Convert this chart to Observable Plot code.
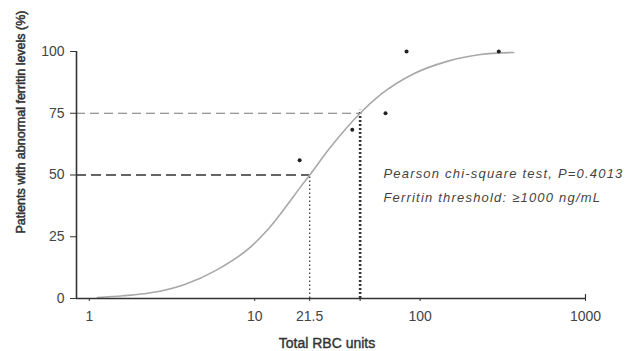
<!DOCTYPE html>
<html>
<head>
<meta charset="utf-8">
<script src="https://cdn.jsdelivr.net/npm/d3@7"></script>
<script src="https://cdn.jsdelivr.net/npm/@observablehq/plot@0.6"></script>
<style>
  html, body { margin: 0; padding: 0; background: #fff; }
  svg { display: block; }
</style>
</head>
<body>
<div id="chart"></div>
<script>
// Observed points (total RBC units, % patients with abnormal ferritin)
const pointX = [18.7, 38.9, 61.8, 82.8, 299];
const pointY = [56, 68.3, 75, 100, 100];

// Fitted curve
const curveX = [1.12, 1.6, 2.35, 3.74, 5.95, 9.46, 11.9, 15, 19, 21.5, 28.7, 43.4, 57.6, 91.6, 145.8, 231.7, 368];
const curveY = [0.4, 1.1, 2.3, 5.6, 11.7, 20.9, 27.6, 36, 45.3, 50, 61.2, 75, 82.5, 91, 96, 98.8, 99.6];

// Reference lines (50% and 75% thresholds)
const refX = [21.5, 43.4];
const refY = [50, 75];

// Axis ticks
const xTicks = [1, 10, 21.5, 43.4, 100, 1000];
const yTicks = [0, 25, 50, 75, 100];
const xDomain = [0.837, 1000];

// Annotation texts
const notes = [
  {x: 60, y: 50.4, text: "Pearson chi-square test, P=0.4013"},
  {x: 60, y: 40.6, text: "Ferritin threshold: \u22651000 ng/mL"}
];

const xLabel = "Total RBC units";
const yLabel = "Patients with abnormal ferritin levels (%)";

const points = pointX.map((x, i) => ({x, y: pointY[i]}));
const curve = curveX.map((x, i) => ({x, y: curveY[i]}));
const refs = refX.map((x, i) => ({x, y: refY[i]}));

const chart = Plot.plot({
  width: 626,
  height: 351,
  marginLeft: 76,
  marginRight: 41,
  marginTop: 51,
  marginBottom: 53,
  style: {fontFamily: "'Liberation Sans', Arial, sans-serif", background: "#fff"},
  x: {type: "log", domain: xDomain},
  y: {domain: [0, 100]},
  marks: [
    // horizontal dashed lines
    Plot.ruleY([refs[1]], {y: "y", x1: () => xDomain[0], x2: "x", stroke: "#777", strokeWidth: 1, strokeDasharray: "9,5"}),
    Plot.ruleY([refs[0]], {y: "y", x1: () => xDomain[0], x2: "x", stroke: "#333", strokeWidth: 1.6, strokeDasharray: "10,5"}),
    // vertical dotted lines
    Plot.ruleX([refs[0]], {x: "x", y1: 0, y2: "y", stroke: "#444", strokeWidth: 1.4, strokeDasharray: "1.5,2.5"}),
    Plot.ruleX([refs[1]], {x: "x", y1: 0, y2: d => d.y + 1.2, stroke: "#333", strokeWidth: 2.6, strokeDasharray: "2,2"}),
    // fitted curve
    Plot.line(curve, {x: "x", y: "y", curve: "monotone-x", stroke: "#a8a8a8", strokeWidth: 1.6}),
    // observed points
    Plot.dot(points, {x: "x", y: "y", r: 2, fill: "#222", stroke: "none"}),
    // axes
    Plot.axisY({ticks: yTicks, tickSize: 6, tickPadding: 6, fontSize: 14, label: null, stroke: "#333", color: "#444"}),
    Plot.axisX({ticks: xTicks, tickSize: 3, tickPadding: 10, fontSize: 14, label: null, tickFormat: d => String(d), stroke: "#333", color: "#444"}),
    Plot.ruleX([xDomain[0]], {stroke: "#333", strokeWidth: 1.6}),
    Plot.ruleY([0], {x1: () => xDomain[0], x2: () => xDomain[1], stroke: "#333", strokeWidth: 1.6}),
    Plot.ruleX([xTicks[xTicks.length - 1]], {y1: 0, y2: 1.6, stroke: "#333", strokeWidth: 1.2}),
    // annotations
    Plot.text(notes, {x: "x", y: "y", text: "text", textAnchor: "start", fontSize: 13, fontStyle: "italic", fill: "#444", lineAnchor: "middle"})
  ]
});

const svg = d3.select(chart);
svg.selectAll("text").filter(function() { return this.textContent.startsWith("Pearson") || this.textContent.startsWith("Ferritin"); })
  .attr("letter-spacing", "1.2px");

svg.append("text")
  .attr("x", 327).attr("y", 344)
  .attr("text-anchor", "middle").attr("dominant-baseline", "middle")
  .attr("font-size", 14).attr("fill", "#333")
  .attr("stroke", "#333").attr("stroke-width", 0.4)
  .text(xLabel);

svg.append("text")
  .attr("transform", "translate(22,122) rotate(-90)")
  .attr("text-anchor", "middle").attr("dominant-baseline", "middle")
  .attr("font-size", 12.5).attr("fill", "#333")
  .attr("stroke", "#333").attr("stroke-width", 0.5)
  .text(yLabel);

document.getElementById("chart").appendChild(chart);
</script>
</body>
</html>
